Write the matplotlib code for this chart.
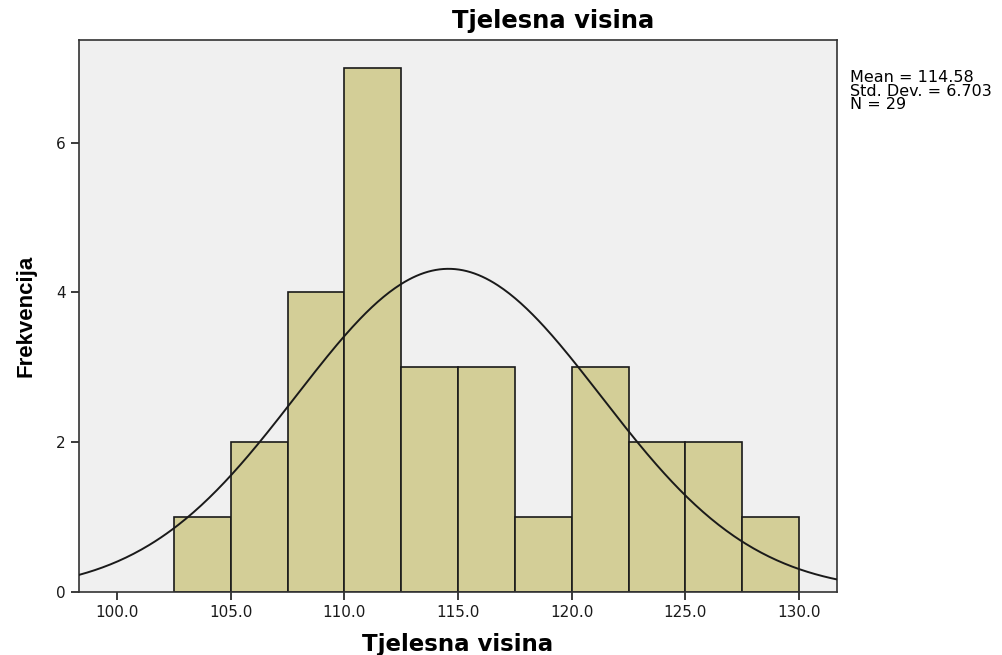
import numpy as np
import matplotlib
matplotlib.use("Agg")
import matplotlib.pyplot as plt

# histogram bins (edges) and counts
bin_edges = [102.5, 105.0, 107.5, 110.0, 112.5, 115.0, 117.5, 120.0, 122.5, 125.0, 127.5, 130.0]
counts = [1, 2, 4, 7, 3, 3, 1, 3, 2, 2, 1]
mean = 114.58
std = 6.703
n = 29
x_ticks = [100.0, 105.0, 110.0, 115.0, 120.0, 125.0, 130.0]
y_ticks = [0, 2, 4, 6]

fig = plt.figure(figsize=(10.03, 6.55), dpi=100)
ax = fig.add_axes([0.0788, 0.0962, 0.7557, 0.8427])
ax.set_facecolor('#f0f0f0')

widths = np.diff(bin_edges)
ax.bar(bin_edges[:-1], counts, width=widths, align='edge',
       color='#d3ce97', edgecolor='#1a1a1a', linewidth=1.2, zorder=2)

# normal curve scaled to the counts
xs = np.linspace(98.0, 132.0, 400)
ys = n * widths[0] * np.exp(-0.5 * ((xs - mean) / std) ** 2) / (std * np.sqrt(2 * np.pi))
ax.plot(xs, ys, color='#1a1a1a', linewidth=1.4, zorder=3)

ax.set_xlim(98.33, 131.67)
ax.set_ylim(0, 7.37)
ax.set_xticks(x_ticks)
ax.set_xticklabels(['%.1f' % v for v in x_ticks], family='DejaVu Sans')
ax.set_yticks(y_ticks)
ax.set_yticklabels([str(v) for v in y_ticks], family='DejaVu Sans')
ax.tick_params(direction='out', length=6, width=1.2, labelsize=11, colors='#1a1a1a')
for s in ax.spines.values():
    s.set_color('#333333')
    s.set_linewidth(1.2)

fig.text(0.551, 0.957, 'Tjelesna visina', fontsize=17.5, fontweight='bold',
         family='DejaVu Sans', ha='center', va='baseline')
ax.set_xlabel('Tjelesna visina', fontsize=16.5, fontweight='bold',
              family='DejaVu Sans', labelpad=9)
ax.set_ylabel('Frekvencija', fontsize=16, fontweight='bold',
              family=['Liberation Sans', 'DejaVu Sans'], labelpad=14)

fig.text(0.847, 0.893, 'Mean = %.2f\nStd. Dev. = %.3f\nN = %d' % (mean, std, n),
         fontsize=11.5, family='DejaVu Sans', va='top', ha='left', linespacing=0.88)

fig.savefig('out.png', dpi=100)
